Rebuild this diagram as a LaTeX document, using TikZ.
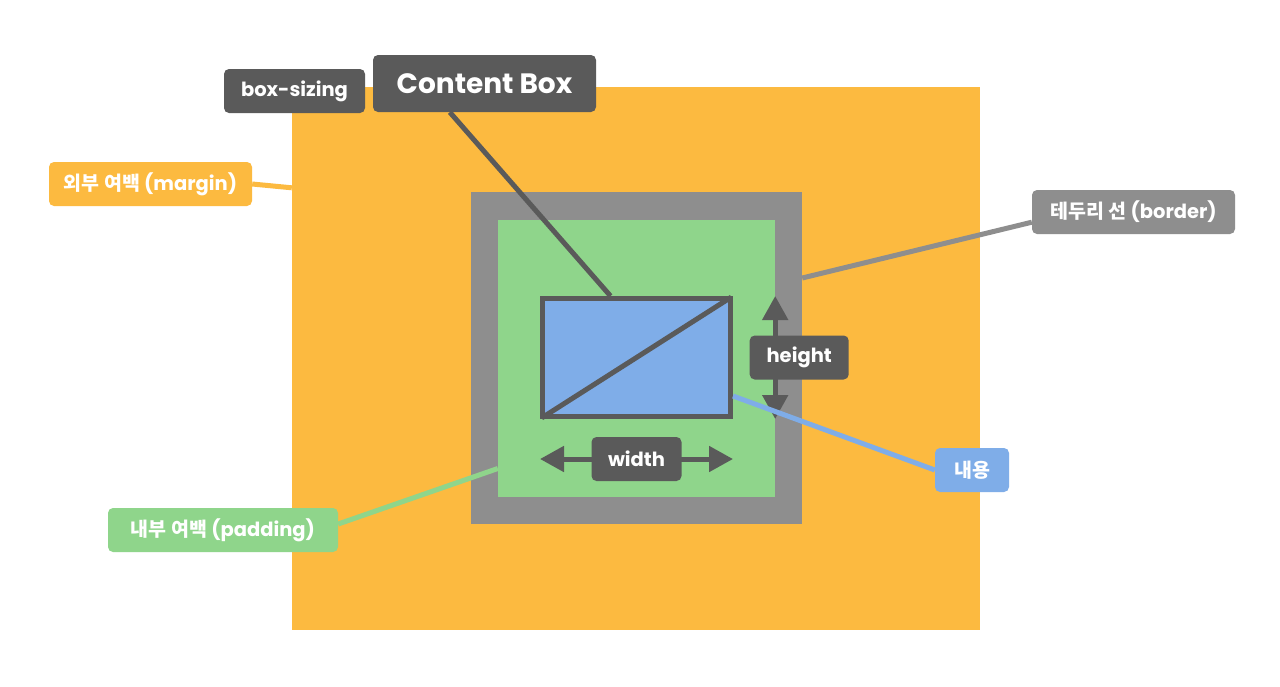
\documentclass[tikz,border=0pt]{standalone}
\usepackage{fontspec}
\setmainfont{Poppins}
\newfontfamily\kor{Noto Sans CJK KR}
\usetikzlibrary{arrows.meta}
\usetikzlibrary{calc}
\usetikzlibrary{positioning}
\definecolor{marginorange}{HTML}{FCBA40}
\definecolor{bordergray}{HTML}{8E8E8E}
\definecolor{paddinggreen}{HTML}{8FD58B}
\definecolor{contentblue}{HTML}{7FADE8}
\definecolor{darktag}{HTML}{5A5A5A}
\tikzset{
  tag/.style={rounded corners=5pt, text=white, inner sep=0pt, minimum height=44pt,
    font=\bfseries\fontsize{19.5}{22}\selectfont},
  layerbox/.style={draw=none, inner sep=0pt},
  link/.style={line width=5pt},
  measure/.style={line width=5pt, draw=darktag,
    {Triangle[width=25pt,length=24pt]}-{Triangle[width=25pt,length=24pt]}},
}

\begin{document}
\begin{tikzpicture}[x=1pt, y=-1pt]
  \useasboundingbox[fill=white] (0,0) rectangle (1280,686);

  % box model layers
  \node[layerbox, fill=marginorange, minimum width=688pt, minimum height=543pt] (margin) at (636,358.5) {};
  \node[layerbox, fill=bordergray, minimum width=331pt, minimum height=332pt] (border) at (636.5,358) {};
  \node[layerbox, fill=paddinggreen, minimum width=277pt, minimum height=277pt] (padding) at (636.5,358.5) {};
  \node[layerbox, fill=contentblue, draw=darktag, line width=5pt,
    minimum width=188pt, minimum height=118pt] (content) at (636.5,357.5) {};
  \draw[link, draw=darktag, shorten <=2pt, shorten >=2pt] (content.south west) -- (content.north east);

  % labels
  \node[tag, fill=darktag, minimum width=223pt, minimum height=57pt,
    font=\bfseries\fontsize{28}{30}\selectfont] (cbl) at (484.5,83.5) {Content Box};
  \node[tag, fill=darktag, minimum width=141pt] (bsl) at (294.5,91) {box-sizing};
  \node[tag, fill=marginorange, minimum width=203pt] (mgl) at (150.5,184) {{\kor\bfseries 외부 여백} (margin)};
  \node[tag, fill=bordergray, minimum width=203pt] (bdl) at (1133.5,212) {{\kor\bfseries 테두리 선} (border)};
  \node[tag, fill=contentblue, minimum width=74pt] (nyl) at (972,470) {\kor\bfseries 내용};
  \node[tag, fill=paddinggreen, minimum width=230pt] (pdl) at (223,530) {{\kor\bfseries 내부 여백} (padding)};

  % measures
  \draw[measure] (padding.east |- content.north) -- node[tag, fill=darktag, minimum width=99pt, xshift=24pt] (hgl) {height} (padding.east |- content.south);
  \draw[measure] ($(content.west)+(0,101.5)$) -- node[tag, fill=darktag, minimum width=90pt] (wdl) {width} ($(content.east)+(0,101.5)$);

  % connectors
  \draw[link, draw=darktag] ($(cbl.south west)+(77,0)$) -- ($(content.north west)+(70.5,0)$);
  \draw[link, draw=marginorange] (mgl.east) -- ($(margin.north west)+(0,101)$);
  \draw[link, draw=bordergray] ($(bdl.south west)+(0,-12)$) -- ($(border.east)+(0,-80)$);
  \draw[link, draw=contentblue] (nyl.west) -- ($(content.east)+(0,38.5)$);
  \draw[link, draw=paddinggreen] ($(pdl.east)+(0,-6)$) -- ($(padding.west)+(0,110)$);
\end{tikzpicture}
\end{document}
